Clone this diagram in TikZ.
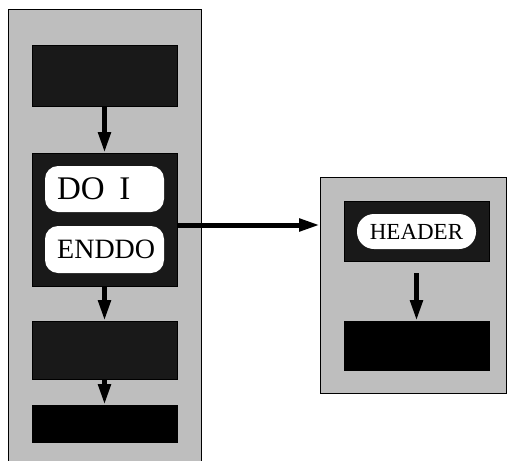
\documentclass[tikz,border=0pt]{standalone}
\usepackage{fontspec}
\setmainfont{Liberation Serif}
\usetikzlibrary{arrows.meta}
\definecolor{panelgray}{gray}{0.745}
\definecolor{darkbox}{gray}{0.1}
\tikzset{
  panel/.style={draw=black, line width=0.8pt, fill=panelgray, inner sep=0pt, outer sep=0pt},
  darkblock/.style={draw=black, line width=0.5pt, fill=darkbox, inner sep=0pt, outer sep=0pt, minimum width=145pt},
  blackblock/.style={darkblock, fill=black},
  pill/.style={fill=white, inner sep=0pt, outer sep=0pt, minimum width=119pt, rounded corners=13pt},
  flow/.style={line width=5pt, -{Triangle[length=21pt,width=12pt]}}
}
\begin{document}
\begin{tikzpicture}[x=1pt,y=-1pt]
\useasboundingbox (0,0) rectangle (507,461);
% left panel
\node[panel, minimum width=193pt, minimum height=470pt] (lpanel) at (104.5,244) {};
\node[darkblock, minimum height=61pt] (b1) at (104.5,75.5) {};
\node[darkblock, minimum height=133pt] (b2) at (104.5,219.5) {};
\node[pill, minimum height=46pt, text width=95pt, inner xsep=12pt, align=left, font=\fontsize{33}{33}\selectfont] (doi) at (104.5,189) {DO\hspace{0.45em}I};
\node[pill, minimum height=47pt] (enddo) at (104.5,249.5) {};
\node[anchor=west, inner sep=0pt, font=\fontsize{28}{28}\selectfont] (enddotext) at (57,249.5) {ENDDO};
\node[darkblock, minimum height=58pt] (b3) at (104.5,350) {};
\node[blackblock, minimum height=37pt] (b4) at (104.5,423.5) {};
% right panel
\node[panel, minimum width=186pt, minimum height=216pt] (rpanel) at (413,285) {};
\node[darkblock, minimum height=60pt] (hbox) at (416.5,231) {};
\node[pill, minimum height=35pt, rounded corners=17pt, font=\fontsize{23}{23}\selectfont] (header) at (416.5,231.5) {HEADER};
\node[blackblock, minimum height=49pt] (rb) at (416.5,345.5) {};
% arrows
\draw[flow] (b1.south) -- (b2.north);
\draw[flow] (b2.south) -- (b3.north);
\draw[flow] (b3.south) -- (b4.north);
\coordinate (hy) at (0,225);
\draw[flow] (b2.east |- hy) -- (rpanel.west |- hy);
\draw[flow, shorten <=12pt] (hbox.south) -- (rb.north);
\end{tikzpicture}
\end{document}
